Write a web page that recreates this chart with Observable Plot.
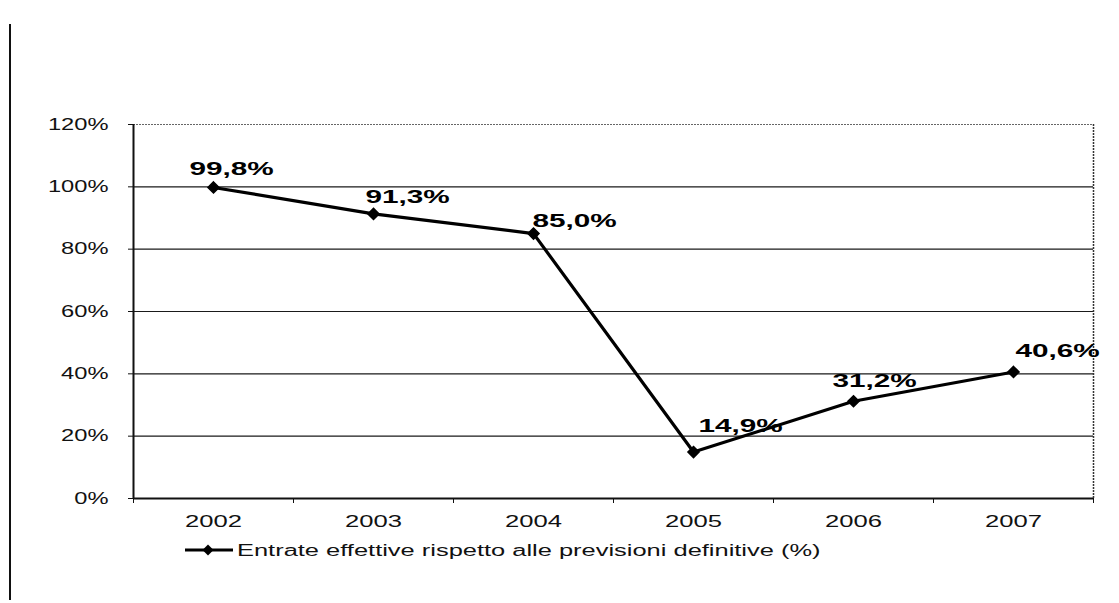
<!DOCTYPE html>
<html><head><meta charset="utf-8">
<script src="https://cdn.jsdelivr.net/npm/d3@7"></script>
<script src="https://cdn.jsdelivr.net/npm/@observablehq/plot@0.6"></script>
<style>
body{margin:0;background:#fff;font-family:"Liberation Sans",Arial,sans-serif;}
#wrap{position:relative;width:1119px;height:603px;overflow:hidden;}
#border{position:absolute;left:9px;top:24px;width:0;height:576px;border-left:2px solid #111;}
#chart{position:absolute;left:0;top:0;}
#legend{position:absolute;left:185px;top:540px;}
</style></head><body>
<div id="wrap"><div id="border"></div><div id="chart"></div><div id="legend"></div></div>
<script>
const years = ["2002", "2003", "2004", "2005", "2006", "2007"];
const values = [99.8, 91.3, 85.0, 14.9, 31.2, 40.6];
const valueLabels = ["99,8%", "91,3%", "85,0%", "14,9%", "31,2%", "40,6%"];
const yTicks = [0, 20, 40, 60, 80, 100, 120];
const seriesName = "Entrate effettive rispetto alle previsioni definitive (%)";
// label placement (style), one [dx, dy] per point
const labelOffsets = [[18, -18], [34, -17], [41, -12], [47, -26], [21, -20], [44, -21]];

const rows = years.map((y, i) => ({i, year: y, value: values[i], label: valueLabels[i]}));
const boundaries = d3.range(-0.5, years.length);

const chart = Plot.plot({
  width: 1119, height: 540,
  marginLeft: 133, marginRight: 26, marginTop: 124, marginBottom: 42,
  style: {fontFamily: "'Liberation Sans', Arial, sans-serif", fontSize: "16px", color: "#111", background: "transparent", overflow: "visible"},
  x: {domain: [-0.5, years.length - 0.5], axis: null},
  y: {domain: [0, 120], axis: null},
  marks: [
    Plot.ruleY(yTicks.filter(t => t > 0 && t < 120), {stroke: "#1a1a1a", strokeWidth: 1.2}),
    Plot.ruleY([120], {stroke: "#666", strokeWidth: 1.2, strokeDasharray: "2,1"}),
    Plot.ruleX([years.length - 0.5], {stroke: "#333", strokeWidth: 1.5, strokeDasharray: "2,1"}),
    Plot.axisY(yTicks, {label: null, tickSize: 5, tickPadding: 20, tickFormat: d => d + "%", fontSize: 16, stroke: "#111", fill: "#111"}),
    Plot.ruleX([-0.5], {stroke: "#111", strokeWidth: 2}),
    Plot.ruleY([0], {stroke: "#111", strokeWidth: 2}),
    Plot.axisX(boundaries, {label: null, tickSize: 5, tickFormat: () => "", stroke: "#111"}),
    Plot.axisX(d3.range(years.length), {label: null, tickSize: 0, tickPadding: 17, tickFormat: i => years[i], fontSize: 16, fill: "#111"}),
    Plot.line(rows, {x: "i", y: "value", stroke: "#000", strokeWidth: 3.2}),
    Plot.dot(rows, {x: "i", y: "value", symbol: "diamond2", r: 5, fill: "#000", stroke: "#000"}),
    ...rows.map((d, k) => Plot.text([d], {
      x: "i", y: "value", text: "label",
      dx: labelOffsets[k][0], dy: labelOffsets[k][1],
      fontWeight: "bold", fontSize: 18, fill: "#000"
    }))
  ]
});
document.getElementById("chart").appendChild(chart);

// legend
const leg = d3.select("#legend").append("svg").attr("width", 900).attr("height", 24)
  .style("font-family", "'Liberation Sans', Arial, sans-serif");
leg.append("line").attr("x1", 0).attr("x2", 48).attr("y1", 10).attr("y2", 10).attr("stroke", "#000").attr("stroke-width", 3);
leg.append("path").attr("d", d3.symbol(d3.symbolSquare, 60)()).attr("transform", "translate(23,10) rotate(45)").attr("fill", "#000");
leg.append("text").attr("class", "legtext").attr("x", 52).attr("y", 16).attr("font-size", 16).attr("fill", "#111").text(seriesName);

// the scanned original is horizontally stretched: widen text accordingly
function stretch(sel, f) {
  document.querySelectorAll(sel).forEach(t => {
    const w = t.getComputedTextLength();
    if (w > 0) { t.setAttribute("textLength", w * f); t.setAttribute("lengthAdjust", "spacingAndGlyphs"); }
  });
}
stretch('#chart g[aria-label="x-axis tick label"] text', 1.6);
stretch('#chart g[aria-label="y-axis tick label"] text', 1.48);
stretch('#chart g[aria-label="text"] text', 1.65);
stretch('#legend .legtext', 1.59);
</script>
</body></html>
